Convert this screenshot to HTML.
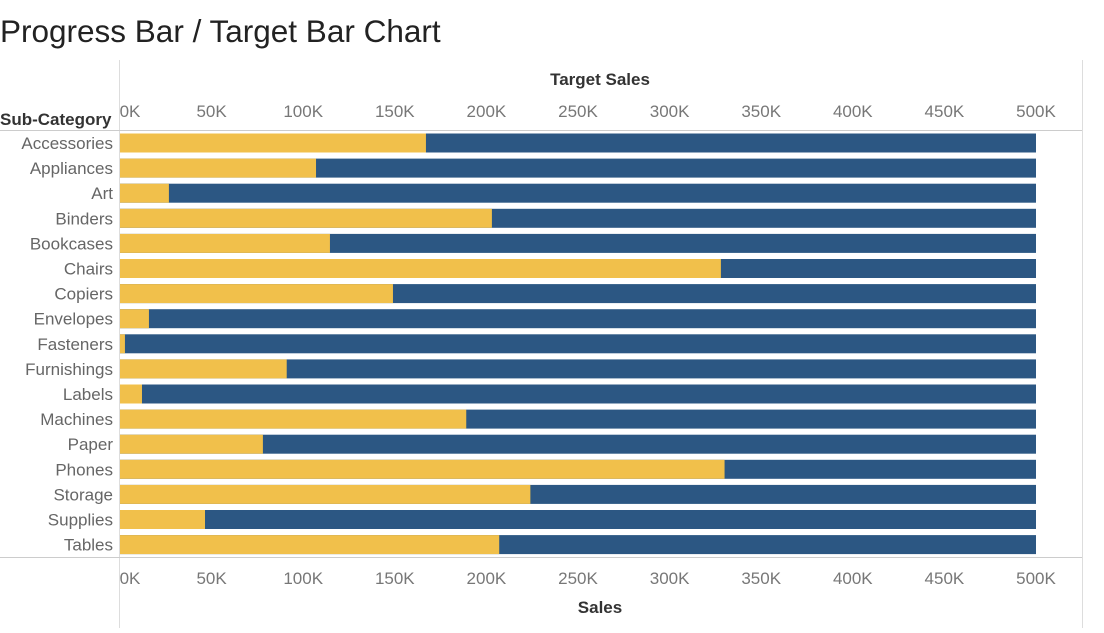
<!DOCTYPE html>
<html><head><meta charset="utf-8"><style>
body{margin:0;background:#fff;font-family:"Liberation Sans",sans-serif;}
svg{display:block}
</style></head><body>
<svg id="c" width="1104" height="633">
<text x="0" y="42" font-size="31.5" fill="#222">Progress Bar / Target Bar Chart</text>
<line x1="119.5" y1="60" x2="119.5" y2="628" stroke="#ddd"/>
<line x1="1082.5" y1="60" x2="1082.5" y2="628" stroke="#ddd"/>
<line x1="0" y1="130.5" x2="1082" y2="130.5" stroke="#ccc"/>
<line x1="0" y1="557.5" x2="1082" y2="557.5" stroke="#ccc"/>
<text x="600" y="85" font-size="17" font-weight="bold" fill="#333" text-anchor="middle">Target Sales</text>
<text x="600" y="613" font-size="17" font-weight="bold" fill="#333" text-anchor="middle">Sales</text>
<text x="0" y="125" font-size="17" font-weight="bold" fill="#333">Sub-Category</text>
<g id="g"></g>
</svg>
<script>
const categories=["Accessories","Appliances","Art","Binders","Bookcases","Chairs","Copiers","Envelopes","Fasteners","Furnishings","Labels","Machines","Paper","Phones","Storage","Supplies","Tables"];
const sales=[167,107,26.7,203,114.6,328,149,15.8,2.7,91,12,189,78,330,224,46.4,207];
const targets=[500,500,500,500,500,500,500,500,500,500,500,500,500,500,500,500,500];
const ticks=[0,50,100,150,200,250,300,350,400,450,500];
const x0=120,x1=1036,maxV=500;
const xs=v=>x0+(v/maxV)*(x1-x0);
const ys=i=>143+i*25.1;
const NS="http://www.w3.org/2000/svg";
const g=document.getElementById('g');
function mk(t,a){const e=document.createElementNS(NS,t);for(const k in a)e.setAttribute(k,a[k]);g.appendChild(e);return e;}
ticks.forEach(t=>{
 [111,578].forEach((y,j)=>{
  const e=mk('text',{x:xs(t)+(t===0?10:0),y:y+6,'font-size':17,fill:'#777','text-anchor':'middle'});
  e.textContent=t+'K';
  
  
 });
});
categories.forEach((c,i)=>{
 const y=ys(i);
 const l=mk('text',{x:113,y:y+6,'font-size':17,fill:'#666','text-anchor':'end'});
 l.textContent=c;
 
 
 const b=mk('rect',{x:x0,y:y-9.5,width:xs(targets[i])-x0,height:19,fill:'#2C5783'});
 
 
 const s=mk('rect',{x:x0,y:y-9.5,width:xs(sales[i])-x0,height:19,fill:'#F1C04B'});
 
 
});
</script>
</body></html>
